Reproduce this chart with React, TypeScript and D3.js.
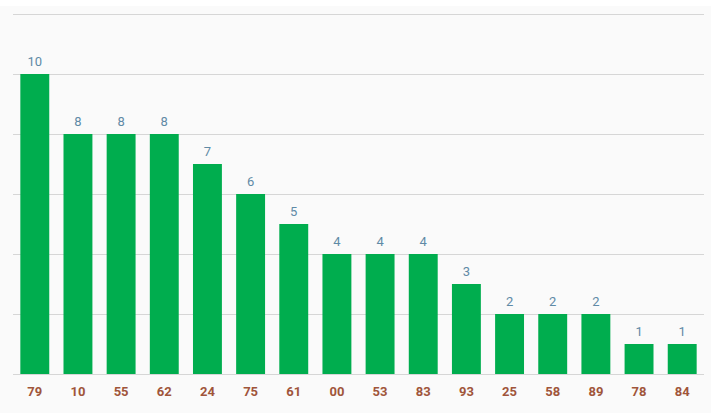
import React from "react";
import * as d3 from "d3";

const categories = ["79","10","55","62","24","75","61","00","53","83","93","25","58","89","78","84"];
const values = [10,8,8,8,7,6,5,4,4,4,3,2,2,2,1,1];
const yTicks = [0,2,4,6,8,10,12];

const W = 717, H = 420;
const left = 13, right = 704, top = 14, bottom = 374;

export default function App() {
  const x = d3.scaleBand<string>().domain(categories).range([left, right]).paddingInner(0.33).paddingOuter(0.17);
  const y = d3.scaleLinear().domain([0, 12]).range([bottom, top]);
  return (
    <svg width={W} height={H} style={{ position: "absolute", left: 0, top: 0, fontFamily: "Roboto, sans-serif" }}>
      <rect x={0} y={0} width={W} height={H} fill="#ffffff" />
      <rect x={0} y={6} width={711} height={407} fill="#fafafa" />
      {yTicks.map((t) => (
        <line key={t} x1={left} x2={right} y1={Math.round(y(t)) + 0.5} y2={Math.round(y(t)) + 0.5} stroke="#d6d6d6" strokeWidth={1} />
      ))}
      {categories.map((c, i) => (
        <g key={c}>
          <rect x={x(c)} y={y(values[i])} width={x.bandwidth()} height={bottom - y(values[i])} fill="#00ad4e" />
          <text x={(x(c) as number) + x.bandwidth() / 2} y={y(values[i]) - 8} textAnchor="middle" fontSize={13} fill="#5f8aa6">{values[i]}</text>
          <text x={(x(c) as number) + x.bandwidth() / 2} y={396} textAnchor="middle" fontSize={13} fontWeight="bold" fill="#a0553a">{c}</text>
        </g>
      ))}
    </svg>
  );
}
